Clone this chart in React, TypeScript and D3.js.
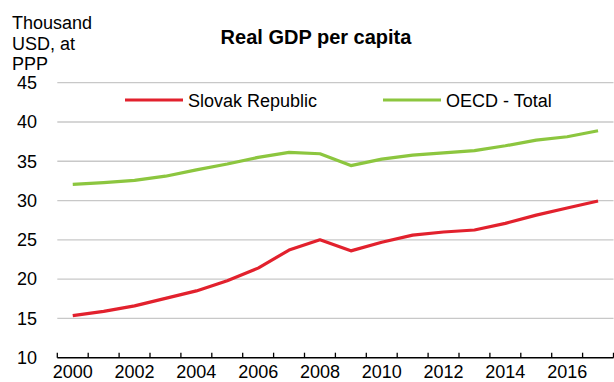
import React from "react";
import * as d3 from "d3";

const years = [2000, 2001, 2002, 2003, 2004, 2005, 2006, 2007, 2008, 2009, 2010, 2011, 2012, 2013, 2014, 2015, 2016, 2017];
const slovak = [15.35, 15.9, 16.6, 17.55, 18.5, 19.8, 21.4, 23.7, 25.0, 23.6, 24.7, 25.6, 26.0, 26.25, 27.1, 28.15, 29.05, 29.95];
const oecd = [32.05, 32.27, 32.57, 33.1, 33.9, 34.65, 35.5, 36.13, 35.96, 34.45, 35.28, 35.79, 36.08, 36.35, 36.97, 37.7, 38.12, 38.88];
const yTicks = [10, 15, 20, 25, 30, 35, 40, 45];
const xLabelYears = [2000, 2002, 2004, 2006, 2008, 2010, 2012, 2014, 2016];
const seriesNames = ["Slovak Republic", "OECD - Total"];
const colors = ["#e2212d", "#8cc63f"];
const unitLines = ["Thousand", "USD, at", "PPP"];
const title = "Real GDP per capita";

export default function App() {
  const W = 614, H = 382;
  const left = 57.3, right = 613.5, top = 82.7, bottom = 357.7;
  const x = d3.scaleBand<number>().domain(years).range([left, right]).padding(0);
  const y = d3.scaleLinear().domain([10, 45]).range([bottom, top]);
  const cx = (yr: number) => (x(yr) as number) + x.bandwidth() / 2;
  const line = d3.line<number>().x((_, i) => cx(years[i])).y((d) => y(d));
  const font = "'Liberation Sans', Arial, sans-serif";
  const boundaries = years.map((yr) => x(yr) as number).concat([right]);

  return (
    <svg width={W} height={H} style={{ position: "absolute", left: 0, top: 0, background: "#fff" }} fontFamily={font}>
      {yTicks.filter((t) => t > 10).map((t) => (
        <line key={t} x1={left} x2={right} y1={y(t)} y2={y(t)} stroke="#c8c8c8" strokeWidth={1.3} />
      ))}
      {yTicks.map((t) => (
        <text key={t} x={37} y={y(t)} dy="0.35em" textAnchor="end" fontSize={18} fill="#000">{t}</text>
      ))}
      {unitLines.map((s, i) => (
        <text key={s} x={12} y={29 + i * 20.5} fontSize={18} fill="#000">{s}</text>
      ))}
      <text x={316} y={44} textAnchor="middle" fontSize={20} fontWeight="bold" fill="#000">{title}</text>
      <line x1={left} x2={right} y1={bottom} y2={bottom} stroke="#000" strokeWidth={1.5} />
      {boundaries.map((b, i) => (
        <line key={i} x1={b} x2={b} y1={bottom} y2={bottom - 5} stroke="#000" strokeWidth={1.3} />
      ))}
      {xLabelYears.map((yr) => (
        <text key={yr} x={cx(yr)} y={377.5} textAnchor="middle" fontSize={18} fill="#000">{yr}</text>
      ))}
      <path d={line(oecd) || ""} fill="none" stroke={colors[1]} strokeWidth={3.2} strokeLinejoin="round" />
      <path d={line(slovak) || ""} fill="none" stroke={colors[0]} strokeWidth={3.2} strokeLinejoin="round" />
      {seriesNames.map((n, i) => {
        const lx = i === 0 ? 125 : 383;
        return (
          <g key={n}>
            <line x1={lx} x2={lx + 58} y1={100} y2={100} stroke={colors[i]} strokeWidth={3.2} />
            <text x={lx + 63} y={106.5} fontSize={18} fill="#000">{n}</text>
          </g>
        );
      })}
    </svg>
  );
}
